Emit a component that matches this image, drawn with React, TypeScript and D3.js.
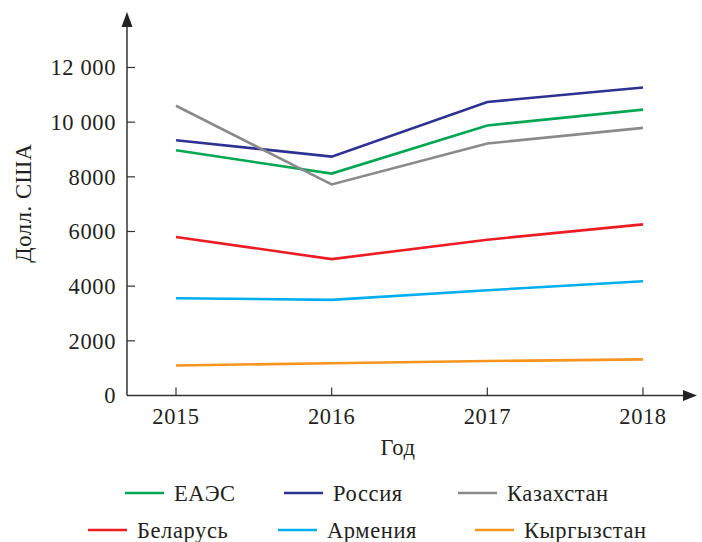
import React from 'react';
import * as d3 from 'd3';

const years = [2015, 2016, 2017, 2018];
const yTicks = [0, 2000, 4000, 6000, 8000, 10000, 12000];

const seriesNames = ['ЕАЭС', 'Россия', 'Казахстан', 'Беларусь', 'Армения', 'Кыргызстан'];
const seriesColors = ['#00a651', '#2e3192', '#8a8a8c', '#ed1c24', '#00aeef', '#f7941d'];

const eaes = [8970, 8120, 9880, 10460];
const russia = [9340, 8740, 10740, 11270];
const kazakhstan = [10600, 7720, 9220, 9790];
const belarus = [5800, 4990, 5700, 6260];
const armenia = [3560, 3500, 3850, 4180];
const kyrgyzstan = [1100, 1180, 1260, 1320];

const seriesValues = [eaes, russia, kazakhstan, belarus, armenia, kyrgyzstan];

const W = 702;
const H = 542;
const FONT = '"Liberation Serif", "Times New Roman", serif';
const AXIS = '#333333';
const FS = 22.5;
const LS = 0.6;

const fmt = (v: number) => (v >= 10000 ? d3.format(',')(v).replace(',', ' ') : String(v));

const App = () => {
  const x = d3.scalePoint<number>().domain(years).range([176, 643]);
  const y = d3.scaleLinear().domain([0, 12000]).range([395.5, 67.5]);
  const x0 = 127;
  const y0 = y(0);

  const line = d3
    .line<number>()
    .x((_, i) => x(years[i]) as number)
    .y((d) => y(d));

  // legend placement: two rows of three
  const legendPos = [
    { lx: 125, ly: 493 },
    { lx: 284, ly: 493 },
    { lx: 458, ly: 493 },
    { lx: 88, ly: 530 },
    { lx: 278, ly: 530 },
    { lx: 475, ly: 530 },
  ];

  return (
    <svg
      width={W}
      height={H}
      style={{ position: 'absolute', left: 0, top: 0, background: 'white' }}
      fontFamily={FONT}
    >
      {/* axes */}
      <line x1={x0} x2={689} y1={y0} y2={y0} stroke={AXIS} strokeWidth={1.5} />
      <path d={`M697,${y0} L683,${y0 - 5.5} L683,${y0 + 5.5} Z`} fill="#222" />
      <line x1={x0} x2={x0} y1={y0} y2={22} stroke={AXIS} strokeWidth={1.5} />
      <path d={`M${x0},12 L${x0 - 5.5},27 L${x0 + 5.5},27 Z`} fill="#222" />

      {yTicks.map((t) => (
        <g key={t}>
          {t > 0 && <line x1={x0} x2={x0 + 8} y1={y(t)} y2={y(t)} stroke={AXIS} strokeWidth={1.2} />}
          <text x={116} y={y(t)} dy="0.35em" textAnchor="end" fontSize={FS} letterSpacing={LS} fill="#231f20">
            {fmt(t)}
          </text>
        </g>
      ))}

      {years.map((yr) => (
        <g key={yr}>
          <line x1={x(yr)} x2={x(yr)} y1={y0} y2={y0 - 8} stroke={AXIS} strokeWidth={1.2} />
          <text x={x(yr)} y={424} textAnchor="middle" fontSize={FS} letterSpacing={LS} fill="#231f20">
            {yr}
          </text>
        </g>
      ))}

      <text x={398} y={455} textAnchor="middle" fontSize={FS} letterSpacing={LS} fill="#231f20">
        Год
      </text>
      <text
        transform="translate(31,203) rotate(-90)"
        textAnchor="middle"
        fontSize={FS}
        letterSpacing={LS}
        fill="#231f20"
      >
        Долл. США
      </text>

      {seriesValues.map((vals, i) => (
        <path key={seriesNames[i]} d={line(vals) || ''} fill="none" stroke={seriesColors[i]} strokeWidth={2.6} />
      ))}

      {seriesNames.map((name, i) => {
        const { lx, ly } = legendPos[i];
        return (
          <g key={name}>
            <line x1={lx} x2={lx + 39} y1={ly} y2={ly} stroke={seriesColors[i]} strokeWidth={2.6} />
            <text x={lx + 49} y={ly} dy="0.35em" fontSize={FS} letterSpacing={LS} fill="#231f20">
              {name}
            </text>
          </g>
        );
      })}
    </svg>
  );
};

export default App;
